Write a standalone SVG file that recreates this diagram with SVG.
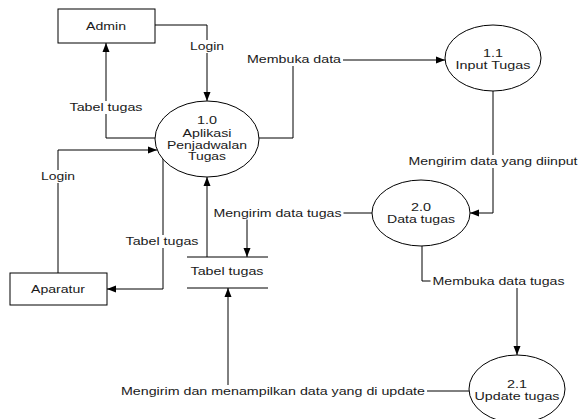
<svg xmlns="http://www.w3.org/2000/svg" width="579" height="419" viewBox="0 0 579 419">
  <style>
    .box { fill: #ffffff; stroke: #000000; stroke-width: 1; }
    .proc { fill: #ffffff; stroke: #000000; stroke-width: 1; }
    .store { stroke: #000000; stroke-width: 1; fill: none; }
    .flow { fill: none; stroke: #000000; stroke-width: 1; marker-end: url(#arrow); }
    .lbg { fill: #ffffff; stroke: none; }
    .t { font-family: "Liberation Sans", Arial, sans-serif; font-size: 11px; fill: #1a1a1a; text-anchor: middle; }
  </style>
  <defs>
    <marker id="arrow" markerUnits="userSpaceOnUse" markerWidth="10" markerHeight="8" refX="9" refY="4" orient="auto">
      <path d="M0,0.5 L9,4 L0,7.5 Z" fill="#000000"/>
    </marker>
  </defs>

  <rect width="579" height="419" fill="#ffffff"/>

  <!-- data flows -->
  <g id="connectors">
    <polyline class="flow" points="155,25 207,25 207,101"/>
    <polyline class="flow" points="155,138 106,138 106,43"/>
    <polyline class="flow" points="259,138 293,138 293,60 445,60"/>
    <polyline class="flow" points="493,91 493,213 470,213"/>
    <polyline class="flow" points="372,213 247,213 247,257"/>
    <polyline class="flow" points="207,257 207,177"/>
    <polyline class="flow" points="163,158 163,289 107,289"/>
    <polyline class="flow" points="58,273 58,150 157,150"/>
    <polyline class="flow" points="422,246 422,281 517,281 517,355"/>
    <polyline class="flow" points="469,391 228,391 228,288"/>

    <g id="flow-labels">
      <rect class="lbg" x="188" y="40" width="38" height="13"/>
      <text class="t" x="207" y="50" textLength="34" lengthAdjust="spacingAndGlyphs">Login</text>

      <rect class="lbg" x="67.5" y="101" width="77" height="13"/>
      <text class="t" x="106" y="111" textLength="73" lengthAdjust="spacingAndGlyphs">Tabel tugas</text>

      <rect class="lbg" x="245" y="53" width="98" height="13"/>
      <text class="t" x="294" y="63" textLength="94" lengthAdjust="spacingAndGlyphs">Membuka data</text>

      <rect class="lbg" x="406.5" y="155" width="173" height="13"/>
      <text class="t" x="493" y="165" textLength="169" lengthAdjust="spacingAndGlyphs">Mengirim data yang diinput</text>

      <rect class="lbg" x="211.5" y="206.5" width="132" height="13"/>
      <text class="t" x="277.5" y="216.5" textLength="128" lengthAdjust="spacingAndGlyphs">Mengirim data tugas</text>

      <rect class="lbg" x="123.5" y="235" width="77" height="13"/>
      <text class="t" x="162" y="245" textLength="73" lengthAdjust="spacingAndGlyphs">Tabel tugas</text>

      <rect class="lbg" x="39" y="170" width="38" height="13"/>
      <text class="t" x="58" y="180" textLength="34" lengthAdjust="spacingAndGlyphs">Login</text>

      <rect class="lbg" x="430.5" y="275" width="136" height="13"/>
      <text class="t" x="498.5" y="285" textLength="132" lengthAdjust="spacingAndGlyphs">Membuka data tugas</text>

      <rect class="lbg" x="119" y="385" width="308" height="13"/>
      <text class="t" x="273" y="395" textLength="304" lengthAdjust="spacingAndGlyphs">Mengirim dan menampilkan data yang di update</text>
    </g>
  </g>

  <!-- external entities -->
  <g id="admin">
    <rect class="box" x="58" y="9" width="97" height="34"/>
    <text class="t" x="106" y="30" textLength="40" lengthAdjust="spacingAndGlyphs">Admin</text>
  </g>

  <g id="aparatur">
    <rect class="box" x="10" y="273" width="97" height="32"/>
    <text class="t" x="58" y="293" textLength="54" lengthAdjust="spacingAndGlyphs">Aparatur</text>
  </g>

  <!-- processes -->
  <g id="proc-1-0">
    <ellipse class="proc" cx="207" cy="139" rx="52" ry="38"/>
    <text class="t" x="207" y="124" textLength="20" lengthAdjust="spacingAndGlyphs">1.0</text>
    <text class="t" x="207" y="136.5" textLength="49" lengthAdjust="spacingAndGlyphs">Aplikasi</text>
    <text class="t" x="207" y="148.5" textLength="80" lengthAdjust="spacingAndGlyphs">Penjadwalan</text>
    <text class="t" x="207" y="160" textLength="38" lengthAdjust="spacingAndGlyphs">Tugas</text>
  </g>

  <g id="proc-1-1">
    <ellipse class="proc" cx="493" cy="58" rx="48" ry="33"/>
    <text class="t" x="493" y="56.5" textLength="20" lengthAdjust="spacingAndGlyphs">1.1</text>
    <text class="t" x="493" y="69" textLength="75" lengthAdjust="spacingAndGlyphs">Input Tugas</text>
  </g>

  <g id="proc-2-0">
    <ellipse class="proc" cx="421" cy="213" rx="49" ry="33"/>
    <text class="t" x="421" y="211" textLength="20" lengthAdjust="spacingAndGlyphs">2.0</text>
    <text class="t" x="421" y="223" textLength="68" lengthAdjust="spacingAndGlyphs">Data tugas</text>
  </g>

  <g id="proc-2-1">
    <ellipse class="proc" cx="517" cy="389" rx="48" ry="34"/>
    <text class="t" x="517" y="388" textLength="20" lengthAdjust="spacingAndGlyphs">2.1</text>
    <text class="t" x="517" y="400" textLength="85" lengthAdjust="spacingAndGlyphs">Update tugas</text>
  </g>

  <!-- data store -->
  <g id="store-tabel-tugas">
    <line class="store" x1="187" y1="257" x2="268" y2="257"/>
    <line class="store" x1="187" y1="288" x2="268" y2="288"/>
    <text class="t" x="227" y="275" textLength="73" lengthAdjust="spacingAndGlyphs">Tabel tugas</text>
  </g>
</svg>
